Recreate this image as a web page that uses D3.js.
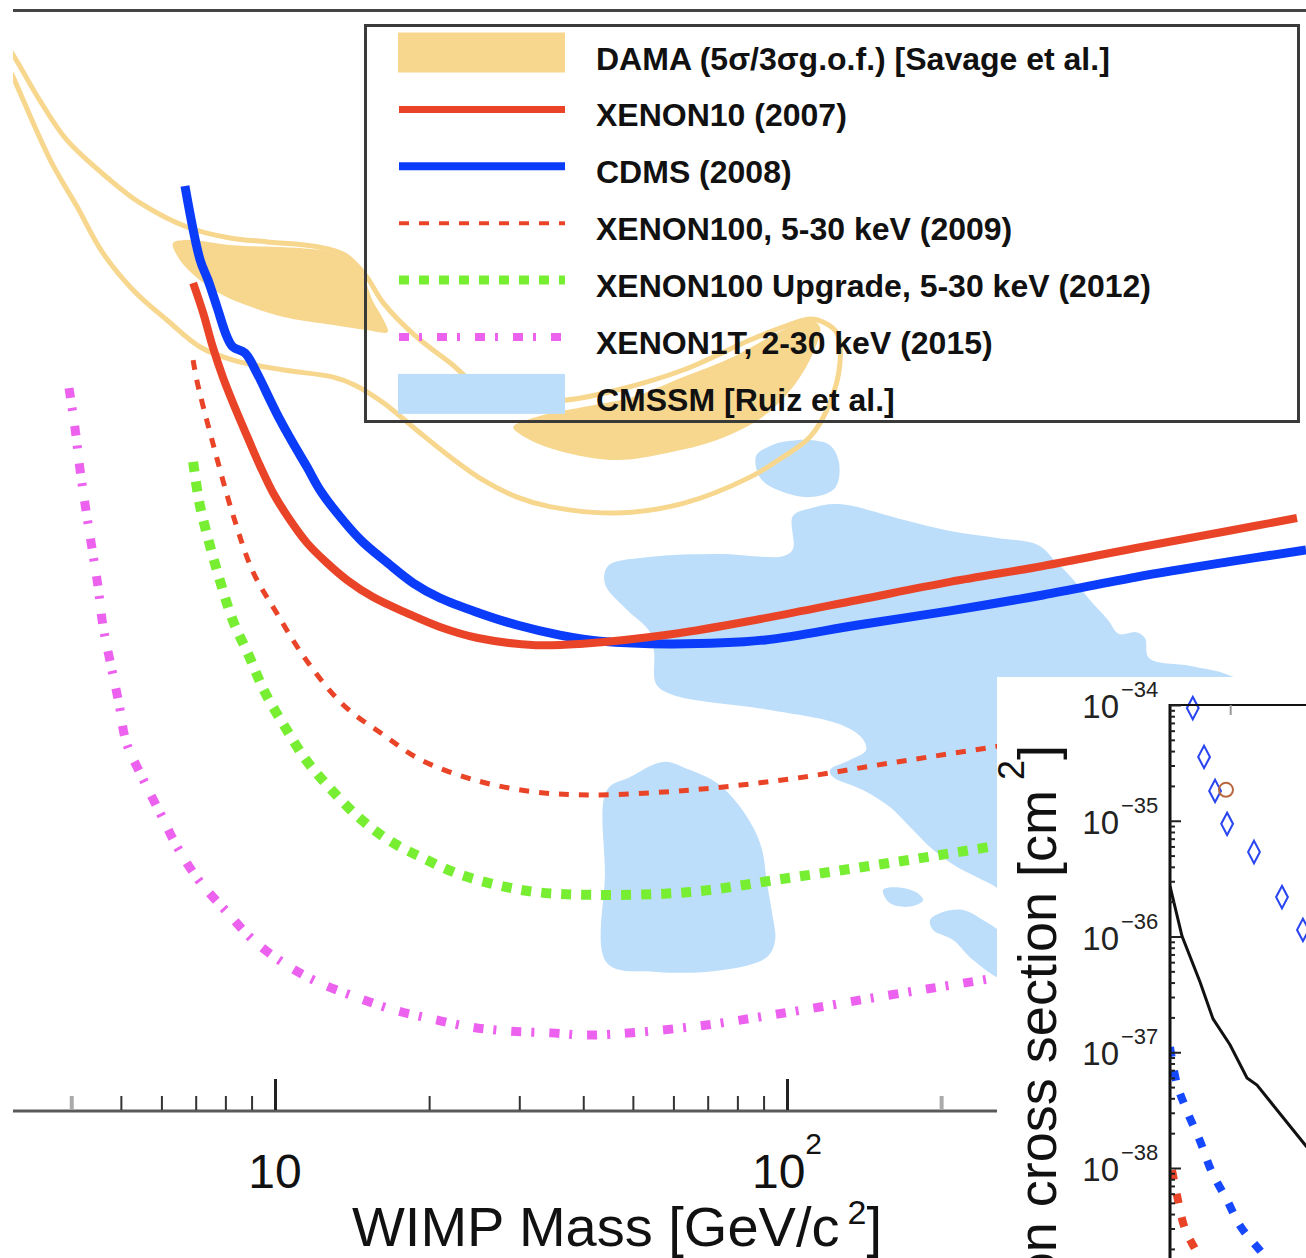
<!DOCTYPE html>
<html>
<head>
<meta charset="utf-8">
<script src="https://cdn.jsdelivr.net/npm/d3@7"></script>
<style>
body { margin: 0; background: #fff; }
svg { display: block; font-family: "Liberation Sans", Arial, sans-serif; }
</style>
</head>
<body>
<svg id="chart" width="1306" height="1258"></svg>
<script>
// ---- data: [WIMP mass GeV, cross section cm^2] ----
const xenon10 = [[6.92,1.365e-42],[7.24,9.66e-43],[7.56,6.53e-43],[7.91,4.62e-43],[8.28,3.43e-43],[8.82,2.34e-43],[9.35,1.66e-43],[9.91,1.22e-43],[10.7,8.91e-44],[11.55,6.84e-44],[12.64,5.43e-44],[13.82,4.47e-44],[15.54,3.67e-44],[18.1,3.05e-44],[21.0,2.60e-44],[24.9,2.29e-44],[32.3,2.11e-44],[39.4,2.14e-44],[59.9,2.40e-44],[90.6,2.88e-44],[137.6,3.55e-44],[208.2,4.37e-44],[316.2,5.25e-44],[480.6,6.46e-44],[726.4,7.85e-44],[991,9.12e-44]];
const cdms = [[6.67,4.17e-42],[7.14,1.78e-42],[7.40,1.41e-42],[7.70,1.04e-42],[8.06,7.33e-43],[8.28,6.53e-43],[8.74,6.10e-43],[9.22,4.84e-43],[9.78,3.55e-43],[10.23,2.82e-43],[10.84,2.16e-43],[11.55,1.64e-43],[12.24,1.26e-43],[13.22,9.66e-44],[14.7,7.08e-44],[16.6,5.43e-44],[18.6,4.32e-44],[21.0,3.63e-44],[25.1,3.05e-44],[29.7,2.66e-44],[36.0,2.37e-44],[43.1,2.21e-44],[59.9,2.14e-44],[90.6,2.24e-44],[137.6,2.66e-44],[208.2,3.13e-44],[316.2,3.76e-44],[480.6,4.62e-44],[726.4,5.50e-44],[1032,6.31e-44]];
const xenon100 = [[6.92,5.62e-43],[7.04,4.42e-43],[7.58,2.11e-43],[8.28,9.44e-44],[9.06,4.90e-44],[10.05,3.09e-44],[11.5,1.78e-44],[13.6,1.06e-44],[16.3,7.50e-45],[19.3,5.62e-45],[24.9,4.42e-45],[32.3,3.89e-45],[41.8,3.76e-45],[64.7,3.98e-45],[101.4,4.52e-45],[158.9,5.43e-45],[252.6,6.53e-45],[408,7.94e-45]];
const xenon100Upgrade = [[6.92,1.74e-43],[7.11,1.10e-43],[7.43,6.92e-44],[7.81,4.42e-44],[8.28,2.79e-44],[8.90,1.86e-44],[9.52,1.25e-44],[10.46,8.22e-45],[11.5,5.62e-45],[12.8,4.07e-45],[14.7,2.85e-45],[16.8,2.21e-45],[19.6,1.80e-45],[22.9,1.51e-45],[27.3,1.33e-45],[32.3,1.23e-45],[41.8,1.19e-45],[64.7,1.23e-45],[101.4,1.45e-45],[158.9,1.72e-45],[249.2,2.07e-45],[408,2.57e-45]];
const xenon1t = [[3.96,4.07e-43],[4.07,2.54e-43],[4.16,1.60e-43],[4.27,1.01e-43],[4.39,6.46e-44],[4.51,4.17e-44],[4.61,2.66e-44],[4.78,1.68e-44],[4.96,1.07e-44],[5.12,6.92e-45],[5.50,4.62e-45],[5.99,2.99e-45],[6.46,2.04e-45],[7.11,1.40e-45],[8.02,9.89e-46],[9.06,7.08e-46],[10.46,5.37e-46],[12.1,4.37e-46],[14.4,3.67e-46],[17.1,3.16e-46],[20.3,2.85e-46],[24.1,2.60e-46],[28.6,2.48e-46],[34.6,2.43e-46],[41.2,2.37e-46],[64.7,2.60e-46],[101.4,3.09e-46],[158.9,3.76e-46],[241.4,4.47e-46],[408,5.62e-46]];

const damaLow = [[6.32,2.16e-42],[6.73,2.24e-42],[8.28,2.11e-42],[11.2,2.04e-42],[13.0,1.93e-42],[14.2,1.72e-42],[14.9,1.46e-42],[15.5,1.12e-42],[16.3,8.91e-43],[16.6,7.76e-43],[15.1,7.94e-43],[13.0,8.41e-43],[10.4,9.23e-43],[8.94,1.04e-42],[8.04,1.16e-42],[7.14,1.41e-42],[6.52,1.78e-42]];
const damaHigh = [[29.2,2.60e-43],[32.4,2.92e-43],[40.0,3.27e-43],[50.0,3.67e-43],[62.7,4.62e-43],[78.4,5.82e-43],[98.2,7.94e-43],[110.9,8.91e-43],[116.0,8.22e-43],[112.4,6.10e-43],[102.7,4.12e-43],[89.6,2.92e-43],[73.0,2.24e-43],[58.3,1.93e-43],[46.6,1.78e-43],[37.2,1.93e-43],[31.5,2.24e-43]];
const damaOutline = [[2.90,2.32e-41],[3.08,1.88e-41],[3.47,1.12e-41],[3.92,7.08e-42],[4.76,4.47e-42],[5.45,3.43e-42],[6.73,2.60e-42],[8.17,2.29e-42],[9.65,2.19e-42],[12.1,2.07e-42],[13.7,1.88e-42],[15.0,1.50e-42],[16.3,1.08e-42],[18.9,7.33e-43],[22.0,5.43e-43],[25.5,3.98e-43],[29.7,3.55e-43],[37.2,3.55e-43],[46.6,3.98e-43],[62.7,5.01e-43],[84.7,7.08e-43],[98.2,8.22e-43],[110.9,9.02e-43],[117.6,8.71e-43],[125.2,7.67e-43],[126.9,5.43e-43],[121.3,3.43e-43],[110.9,2.32e-43],[98.2,1.84e-43],[84.7,1.46e-43],[62.7,1.08e-43],[46.6,9.66e-44],[34.4,1.04e-43],[29.7,1.16e-43],[25.5,1.41e-43],[22.0,1.84e-43],[18.9,2.51e-43],[16.3,3.43e-43],[14.3,4.22e-43],[13.0,4.62e-43],[10.4,5.01e-43],[8.28,5.62e-43],[7.14,6.53e-43],[6.15,8.91e-43],[5.28,1.26e-42],[4.61,1.93e-42],[4.11,3.27e-42],[3.64,5.62e-42],[3.08,1.46e-41],[2.90,2.04e-41]];

const cmssmA = [[87.0,1.86e-43],[92.6,2.09e-43],[100.5,2.21e-43],[110.9,2.24e-43],[121.3,2.11e-43],[126.4,1.72e-43],[124.1,1.29e-43],[111.2,1.16e-43],[96.5,1.25e-43],[88.6,1.45e-43]];
const cmssmB = [[44.1,4.27e-44],[44.7,5.25e-44],[53.8,5.82e-44],[73.6,6.03e-44],[98.6,5.89e-44],[102.7,6.38e-44],[102.7,9.33e-44],[111.2,1.02e-43],[126.4,1.07e-43],[169.3,8.91e-44],[208.2,7.85e-44],[257.2,7.24e-44],[309.2,6.68e-44],[336.8,5.43e-44],[358.6,4.62e-44],[388.9,3.59e-44],[423.6,2.82e-44],[445.0,2.40e-44],[480.6,2.45e-44],[500.3,2.29e-44],[509.3,1.82e-44],[615.2,1.66e-44],[726.4,1.50e-44],[802,1.26e-44],[272.6,1.12e-45],[256.1,1.30e-45],[235.0,1.46e-45],[214.8,1.64e-45],[192.9,2.0e-45],[173.9,2.60e-45],[158.9,3.27e-45],[140.6,3.98e-45],[123.0,4.62e-45],[121.3,5.01e-45],[132.7,5.62e-45],[142.7,6.31e-45],[140.1,7.24e-45],[126.4,8.51e-45],[90.6,1.01e-44],[59.9,1.19e-44],[55.5,1.35e-44],[55.0,1.95e-44],[53.8,2.48e-44],[48.5,3.20e-44]];
const cmssmC = [[44.5,3.98e-45],[49.4,4.62e-45],[57.3,5.50e-45],[64.7,5.01e-45],[73.0,4.32e-45],[79.9,3.43e-45],[85.8,2.60e-45],[89.4,2.0e-45],[91.4,1.36e-45],[93.5,9.66e-46],[94.8,7.08e-46],[91.4,5.82e-46],[75.0,5.01e-46],[55.7,4.90e-46],[44.5,5.43e-46],[44.1,1.53e-45]];
const cmssmD = [[154.0,1.26e-45],[164.0,1.30e-45],[179.5,1.22e-45],[184.4,1.12e-45],[173.9,1.04e-45],[158.9,1.08e-45]];
const cmssmE = [[190.3,8.91e-46],[201.7,9.77e-46],[220.7,1.0e-45],[241.4,8.91e-46],[260.6,7.76e-46],[272.6,6.31e-46],[264.2,4.57e-46],[230.9,5.62e-46],[211.0,7.08e-46],[192.9,7.94e-46]];

const massMajorTicks = [10, 100];
const massMinorTicks = [5, 6, 7, 8, 9, 20, 30, 40, 50, 60, 70, 80, 90];
const massFaintTicks = [4, 200];
const massTickSup = ['', '2'];

const legendLabels = ['DAMA (5\u03c3/3\u03c3g.o.f.) [Savage et al.]', 'XENON10 (2007)', 'CDMS (2008)',
    'XENON100, 5-30 keV (2009)', 'XENON100 Upgrade, 5-30 keV (2012)', 'XENON1T, 2-30 keV (2015)', 'CMSSM [Ruiz et al.]'];

// inset panel (partly visible)
const insetDiamonds = [[1.30,9.4e-35],[1.48,3.56e-35],[1.68,1.81e-35],[1.93,9.4e-36],[2.63,5.37e-36],[3.63,2.19e-36],[4.62,1.14e-36]];
const insetCircle = [[1.905,1.85e-35]];
const insetBlack = [[1.0,2.73e-36],[1.148,1.01e-36],[1.413,4.04e-37],[1.641,1.94e-37],[1.995,1.16e-37],[2.427,6.0e-38],[2.723,5.21e-38],[3.428,3.17e-38],[4.786,1.55e-38],[6.31,8.7e-39]];
const insetBlueDash = [[1.0,1.11e-37],[1.084,5.3e-38],[1.216,3.1e-38],[1.413,1.71e-38],[1.62,9.2e-39],[1.905,5.5e-39],[2.26,3.1e-39],[2.88,1.85e-39],[3.98,8.9e-40]];
const insetRedDash = [[1.023,9.6e-39],[1.084,5.8e-39],[1.189,2.97e-39],[1.38,1.78e-39],[1.585,9.8e-40]];
const insetTickExps = [-34, -35, -36, -37, -38];
const insetMinorExps = [-35, -36, -37, -38, -39];
const insetTopTicks = [2];

// ---- styles ----
const RED = '#ea4428', BLUE = '#0a3cfa', GREEN = '#78ee33', MAGENTA = '#ec62ef';
const DAMA_FILL = '#f7d68e', CMSSM_FILL = '#bddefa';
const lineStyles = [
    {data: xenon1t, color: MAGENTA, width: 9, dash: '10,10,3,15'},
    {data: xenon100Upgrade, color: GREEN, width: 10, dash: '10,10'},
    {data: xenon100, color: RED, width: 5, dash: '10,10'},
    {data: cdms, color: BLUE, width: 9, dash: null},
    {data: xenon10, color: RED, width: 8, dash: null}
];

const svg = d3.select('#chart');
const x = d3.scaleLog().domain([10, 100]).range([275, 787]);
const y = d3.scaleLog().domain([1e-46, 1e-40]).range([1110, -90]);

const defs = svg.append('defs');
defs.append('clipPath').attr('id', 'plotClip')
    .append('rect').attr('x', 13).attr('y', 11).attr('width', 1293).attr('height', 1099);

const plot = svg.append('g').attr('clip-path', 'url(#plotClip)');

const closed = d3.line().x(d => x(d[0])).y(d => y(d[1])).curve(d3.curveCatmullRomClosed.alpha(0.5));
const open = d3.line().x(d => x(d[0])).y(d => y(d[1])).curve(d3.curveCatmullRom.alpha(0.5));

[cmssmA, cmssmB, cmssmC, cmssmD, cmssmE].forEach(r => {
    plot.append('path').datum(r).attr('d', closed).attr('fill', CMSSM_FILL);
});
[damaLow, damaHigh].forEach(r => {
    plot.append('path').datum(r).attr('d', closed).attr('fill', DAMA_FILL);
});
plot.append('path').datum(damaOutline).attr('d', closed)
    .attr('fill', 'none').attr('stroke', DAMA_FILL).attr('stroke-width', 5);

lineStyles.forEach(s => {
    plot.append('path').datum(s.data).attr('d', open)
        .attr('fill', 'none').attr('stroke', s.color).attr('stroke-width', s.width)
        .attr('stroke-dasharray', s.dash);
});

// frame line at top and x axis
svg.append('line').attr('x1', 13).attr('x2', 1306).attr('y1', 10.5).attr('y2', 10.5)
    .attr('stroke', '#444').attr('stroke-width', 3);
svg.append('line').attr('x1', 13).attr('x2', 1000).attr('y1', 1111).attr('y2', 1111)
    .attr('stroke', '#5a5a5a').attr('stroke-width', 3);

function tickGroup(values, len, color, width) {
    const g = svg.append('g').attr('transform', 'translate(0,1110)')
        .call(d3.axisBottom(x).tickValues(values).tickSize(-len).tickFormat(''));
    g.select('.domain').remove();
    g.selectAll('line').attr('stroke', color).attr('stroke-width', width);
}
tickGroup(massMinorTicks, 14, '#333', 2);
tickGroup(massFaintTicks, 14, '#aaa', 4);
tickGroup(massMajorTicks, 31, '#222', 3);

massMajorTicks.forEach((v, i) => {
    const t = svg.append('text').attr('x', x(v)).attr('y', 1188)
        .attr('text-anchor', 'middle').attr('font-size', 48).attr('fill', '#111');
    t.append('tspan').text('10');
    if (massTickSup[i]) t.append('tspan').attr('font-size', 30).attr('dy', -34).text(massTickSup[i]);
});

const title = svg.append('text').attr('x', 352).attr('y', 1246).attr('font-size', 56).attr('fill', '#111');
title.append('tspan').text('WIMP Mass [GeV/c');
title.append('tspan').attr('font-size', 34).attr('dx', 8).attr('dy', -22).text('2');
title.append('tspan').attr('dy', 22).text(']');

// legend
const legend = svg.append('g');
legend.append('rect').attr('x', 365.5).attr('y', 25.5).attr('width', 933).attr('height', 396)
    .attr('fill', 'none').attr('stroke', '#3a3a3a').attr('stroke-width', 3);
legendLabels.forEach((label, i) => {
    const cy = 52.5 + i * 56.9;
    if (i === 0 || i === 6) {
        legend.append('rect').attr('x', 398).attr('y', cy - 20).attr('width', 167).attr('height', 40)
            .attr('fill', i === 0 ? DAMA_FILL : CMSSM_FILL);
    } else {
        const s = lineStyles[5 - i];
        legend.append('line').attr('x1', 399).attr('x2', 565).attr('y1', cy).attr('y2', cy)
            .attr('stroke', s.color).attr('stroke-width', s.width - 1)
            .attr('stroke-dasharray', s.dash);
    }
    legend.append('text').attr('x', 596).attr('y', cy + 17).attr('font-size', 32)
        .attr('font-weight', 'bold').attr('fill', '#111').text(label);
});

// ---- inset ----
const ix = d3.scaleLog().domain([1, 1000]).range([1170, 1770]);
const iy = d3.scaleLog().domain([1e-38, 1e-34]).range([1168, 705]);
const inset = svg.append('g');
inset.append('rect').attr('x', 997).attr('y', 677).attr('width', 309).attr('height', 581).attr('fill', '#fff');

defs.append('clipPath').attr('id', 'insetClip')
    .append('rect').attr('x', 1170).attr('y', 705).attr('width', 136).attr('height', 553);
const ip = inset.append('g').attr('clip-path', 'url(#insetClip)');
const iline = d3.line().x(d => ix(d[0])).y(d => iy(d[1]));
ip.append('path').datum(insetBlack).attr('d', iline).attr('fill', 'none')
    .attr('stroke', '#111').attr('stroke-width', 3);
const icurve = d3.line().x(d => ix(d[0])).y(d => iy(d[1])).curve(d3.curveCatmullRom);
ip.append('path').datum(insetBlueDash).attr('d', icurve).attr('fill', 'none')
    .attr('stroke', '#1548ff').attr('stroke-width', 8).attr('stroke-dasharray', '10,14');
ip.append('path').datum(insetRedDash).attr('d', icurve).attr('fill', 'none')
    .attr('stroke', RED).attr('stroke-width', 8).attr('stroke-dasharray', '10,14');

inset.selectAll('path.diamond').data(insetDiamonds).enter().append('path')
    .attr('class', 'diamond')
    .attr('d', d3.symbol(d3.symbolDiamond, 120))
    .attr('transform', d => `translate(${ix(d[0])},${iy(d[1])}) scale(1,1.1)`)
    .attr('fill', 'none').attr('stroke', '#2a46f0').attr('stroke-width', 2);
inset.selectAll('circle.pt').data(insetCircle).enter().append('circle')
    .attr('class', 'pt').attr('cx', d => ix(d[0])).attr('cy', d => iy(d[1])).attr('r', 7)
    .attr('fill', 'none').attr('stroke', '#b8683e').attr('stroke-width', 2);

// inset spines and ticks
inset.append('line').attr('x1', 1170).attr('x2', 1170).attr('y1', 704).attr('y2', 1258)
    .attr('stroke', '#111').attr('stroke-width', 3);
inset.append('line').attr('x1', 1169).attr('x2', 1306).attr('y1', 705).attr('y2', 705)
    .attr('stroke', '#111').attr('stroke-width', 2);
const minorVals = [];
insetMinorExps.forEach(e => {
    for (let j = 2; j <= 9; j++) minorVals.push(j * Math.pow(10, e));
});
const iyMinor = inset.append('g').attr('transform', 'translate(1170,0)')
    .call(d3.axisLeft(iy).tickValues(minorVals).tickSize(-5).tickFormat(''));
iyMinor.select('.domain').remove();
iyMinor.selectAll('line').attr('stroke', '#222').attr('stroke-width', 2);
const iyMajor = inset.append('g').attr('transform', 'translate(1170,0)')
    .call(d3.axisLeft(iy).tickValues(insetTickExps.map(e => Math.pow(10, e))).tickSize(-11).tickFormat(''));
iyMajor.select('.domain').remove();
iyMajor.selectAll('line').attr('stroke', '#222').attr('stroke-width', 2);
const ixTop = inset.append('g').attr('transform', 'translate(0,705)')
    .call(d3.axisTop(ix).tickValues(insetTopTicks).tickSize(-10).tickFormat(''));
ixTop.select('.domain').remove();
ixTop.selectAll('line').attr('stroke', '#999').attr('stroke-width', 2);

insetTickExps.forEach(e => {
    const ty = iy(Math.pow(10, e));
    inset.append('text').attr('x', 1119).attr('y', ty + 13).attr('text-anchor', 'end')
        .attr('font-size', 33).attr('fill', '#222').text('10');
    inset.append('text').attr('x', 1121).attr('y', ty - 8)
        .attr('font-size', 22).attr('fill', '#222').text('\u2212' + Math.abs(e));
});

const ylab = inset.append('text').attr('transform', 'translate(1056,745) rotate(-90)')
    .attr('text-anchor', 'end').attr('font-size', 54).attr('fill', '#111');
ylab.append('tspan').text('WIMP-nucleon cross section [cm');
ylab.append('tspan').attr('font-size', 36).attr('dx', 10).attr('dy', -32).text('2');
ylab.append('tspan').attr('dy', 32).text(']');
</script>
</body>
</html>
